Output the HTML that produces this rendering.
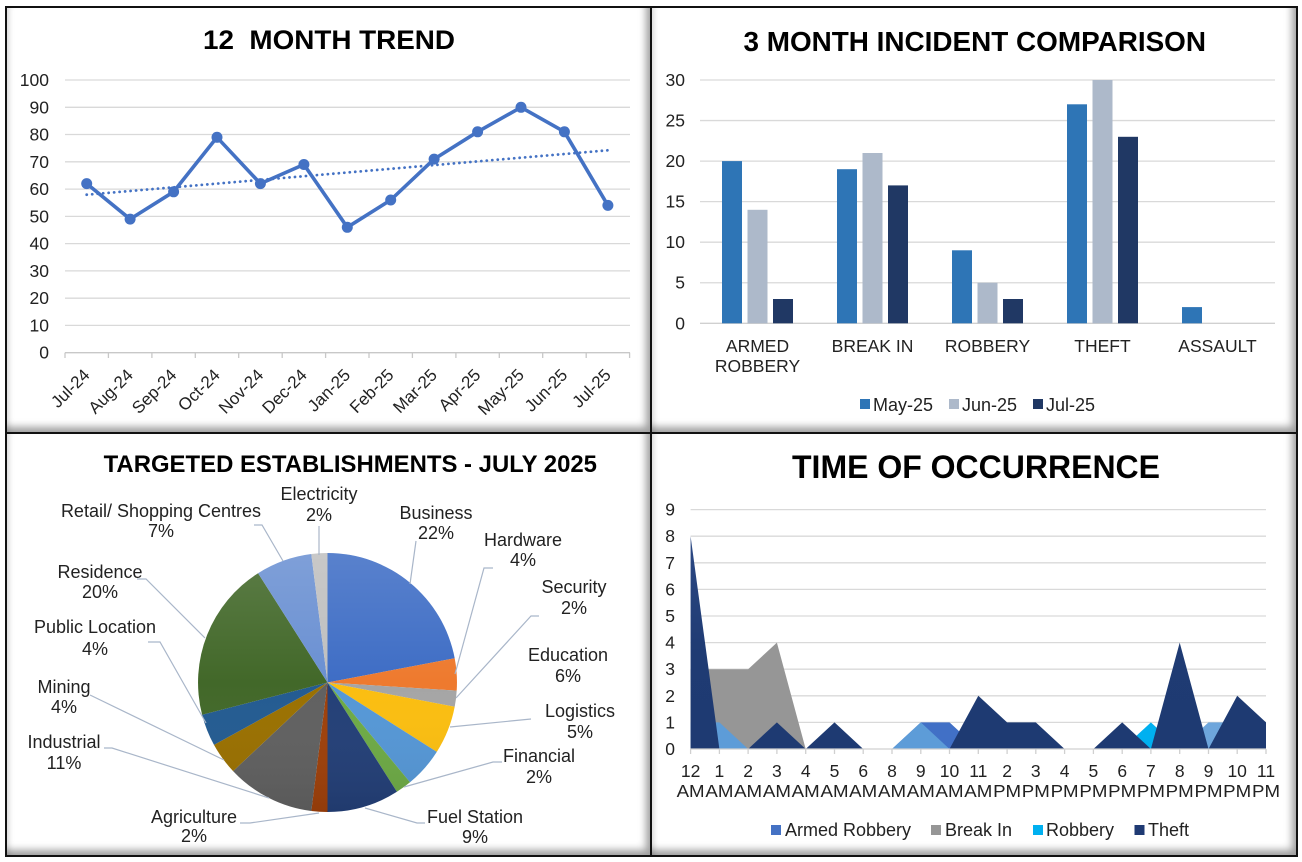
<!DOCTYPE html>
<html><head><meta charset="utf-8"><style>
html,body{margin:0;padding:0;background:#fff;}
body{width:1302px;height:862px;position:relative;overflow:hidden;}
.ln{position:absolute;background:#111;}
.pn{position:absolute;background:#fff;box-shadow:inset -7px -8px 8px -3px rgba(0,0,0,0.38), inset 6px 0 6px -4px rgba(0,0,0,0.16);}
svg{position:absolute;left:0;top:0;}
text{font-family:"Liberation Sans",Arial,sans-serif;fill:#222;}
.t{font-weight:bold;fill:#000;}
.tk{font-size:17.5px;}
.pl{font-size:18px;}
</style></head><body>
<div class="pn" style="left:7px;top:8px;width:643px;height:424px"></div>
<div class="pn" style="left:652px;top:8px;width:644px;height:424px"></div>
<div class="pn" style="left:7px;top:434px;width:643px;height:421px"></div>
<div class="pn" style="left:652px;top:434px;width:644px;height:421px"></div>
<div class="ln" style="left:5px;top:6px;width:1293px;height:2px"></div>
<div class="ln" style="left:5px;top:855px;width:1293px;height:2px"></div>
<div class="ln" style="left:5px;top:6px;width:2px;height:851px"></div>
<div class="ln" style="left:1296px;top:6px;width:2px;height:851px"></div>
<div class="ln" style="left:650px;top:6px;width:2px;height:851px"></div>
<div class="ln" style="left:5px;top:432px;width:1293px;height:2px"></div>

<svg width="1302" height="862" viewBox="0 0 1302 862">
<defs>
<linearGradient id="pieg" x1="0" y1="0" x2="0" y2="1">
<stop offset="0" stop-color="#fff" stop-opacity="0.14"/>
<stop offset="0.5" stop-color="#fff" stop-opacity="0"/>
<stop offset="1" stop-color="#000" stop-opacity="0.08"/>
</linearGradient>
<linearGradient id="theftg" x1="0" y1="510" x2="0" y2="749" gradientUnits="userSpaceOnUse">
<stop offset="0" stop-color="#2F4C88"/>
<stop offset="0.6" stop-color="#1F3B73"/>
<stop offset="1" stop-color="#1E3A72"/>
</linearGradient>
</defs>

<!-- ============ TOP LEFT: 12 MONTH TREND ============ -->
<text class="t" x="203" y="49" font-size="27" textLength="252" lengthAdjust="spacingAndGlyphs">12&#160; MONTH TREND</text>
<g stroke="#D9D9D9" stroke-width="1.3">
<line x1="65" y1="80" x2="630" y2="80"/>
<line x1="65" y1="107.3" x2="630" y2="107.3"/>
<line x1="65" y1="134.5" x2="630" y2="134.5"/>
<line x1="65" y1="161.8" x2="630" y2="161.8"/>
<line x1="65" y1="189.1" x2="630" y2="189.1"/>
<line x1="65" y1="216.4" x2="630" y2="216.4"/>
<line x1="65" y1="243.6" x2="630" y2="243.6"/>
<line x1="65" y1="270.9" x2="630" y2="270.9"/>
<line x1="65" y1="298.2" x2="630" y2="298.2"/>
<line x1="65" y1="325.4" x2="630" y2="325.4"/>
</g>
<g stroke="#C8C8C8" stroke-width="1.3">
<line x1="65" y1="352.7" x2="630" y2="352.7"/>
<line x1="65" y1="352.7" x2="65" y2="358"/>
<line x1="108.4" y1="352.7" x2="108.4" y2="358"/>
<line x1="151.9" y1="352.7" x2="151.9" y2="358"/>
<line x1="195.3" y1="352.7" x2="195.3" y2="358"/>
<line x1="238.7" y1="352.7" x2="238.7" y2="358"/>
<line x1="282.2" y1="352.7" x2="282.2" y2="358"/>
<line x1="325.6" y1="352.7" x2="325.6" y2="358"/>
<line x1="369" y1="352.7" x2="369" y2="358"/>
<line x1="412.4" y1="352.7" x2="412.4" y2="358"/>
<line x1="455.9" y1="352.7" x2="455.9" y2="358"/>
<line x1="499.3" y1="352.7" x2="499.3" y2="358"/>
<line x1="542.7" y1="352.7" x2="542.7" y2="358"/>
<line x1="586.2" y1="352.7" x2="586.2" y2="358"/>
<line x1="629.6" y1="352.7" x2="629.6" y2="358"/>
</g>
<g class="tk" text-anchor="end">
<text x="49" y="86">100</text>
<text x="49" y="113.3">90</text>
<text x="49" y="140.5">80</text>
<text x="49" y="167.8">70</text>
<text x="49" y="195.1">60</text>
<text x="49" y="222.4">50</text>
<text x="49" y="249.6">40</text>
<text x="49" y="276.9">30</text>
<text x="49" y="304.2">20</text>
<text x="49" y="331.4">10</text>
<text x="49" y="358.7">0</text>
</g>
<g font-size="17" text-anchor="end">
<text transform="translate(90.7,376) rotate(-45)">Jul-24</text>
<text transform="translate(134.1,376) rotate(-45)">Aug-24</text>
<text transform="translate(177.6,376) rotate(-45)">Sep-24</text>
<text transform="translate(221,376) rotate(-45)">Oct-24</text>
<text transform="translate(264.4,376) rotate(-45)">Nov-24</text>
<text transform="translate(307.9,376) rotate(-45)">Dec-24</text>
<text transform="translate(351.3,376) rotate(-45)">Jan-25</text>
<text transform="translate(394.7,376) rotate(-45)">Feb-25</text>
<text transform="translate(438.1,376) rotate(-45)">Mar-25</text>
<text transform="translate(481.6,376) rotate(-45)">Apr-25</text>
<text transform="translate(525,376) rotate(-45)">May-25</text>
<text transform="translate(568.4,376) rotate(-45)">Jun-25</text>
<text transform="translate(611.9,376) rotate(-45)">Jul-25</text>
</g>
<line x1="86.7" y1="194.7" x2="607.9" y2="150.3" stroke="#4472C4" stroke-width="2.8" stroke-linecap="round" stroke-dasharray="0.1 5.4"/>
<polyline fill="none" stroke="#4472C4" stroke-width="3.6" stroke-linejoin="round" points="86.7,183.6 130.1,219.1 173.6,191.8 217,137.3 260.4,183.6 303.9,164.5 347.3,227.3 390.7,200 434.1,159.1 477.6,131.8 521,107.3 564.4,131.8 607.9,205.4"/>
<g fill="#4472C4">
<circle cx="86.7" cy="183.6" r="5.5"/><circle cx="130.1" cy="219.1" r="5.5"/><circle cx="173.6" cy="191.8" r="5.5"/>
<circle cx="217" cy="137.3" r="5.5"/><circle cx="260.4" cy="183.6" r="5.5"/><circle cx="303.9" cy="164.5" r="5.5"/>
<circle cx="347.3" cy="227.3" r="5.5"/><circle cx="390.7" cy="200" r="5.5"/><circle cx="434.1" cy="159.1" r="5.5"/>
<circle cx="477.6" cy="131.8" r="5.5"/><circle cx="521" cy="107.3" r="5.5"/><circle cx="564.4" cy="131.8" r="5.5"/>
<circle cx="607.9" cy="205.4" r="5.5"/>
</g>

<!-- ============ TOP RIGHT: 3 MONTH INCIDENT COMPARISON ============ -->
<text class="t" x="743.5" y="51" font-size="27.5" textLength="462.5" lengthAdjust="spacingAndGlyphs">3 MONTH INCIDENT COMPARISON</text>
<g stroke="#D9D9D9" stroke-width="1.3">
<line x1="700" y1="80" x2="1275" y2="80"/>
<line x1="700" y1="120.55" x2="1275" y2="120.55"/>
<line x1="700" y1="161.1" x2="1275" y2="161.1"/>
<line x1="700" y1="201.65" x2="1275" y2="201.65"/>
<line x1="700" y1="242.2" x2="1275" y2="242.2"/>
<line x1="700" y1="282.75" x2="1275" y2="282.75"/>
<line x1="700" y1="323.3" x2="1275" y2="323.3" stroke="#D0D0D0"/>
</g>
<g class="tk" text-anchor="end">
<text x="685" y="86">30</text>
<text x="685" y="126.5">25</text>
<text x="685" y="167.1">20</text>
<text x="685" y="207.6">15</text>
<text x="685" y="248.2">10</text>
<text x="685" y="288.7">5</text>
<text x="685" y="329.3">0</text>
</g>
<g fill="#2E75B6">
<rect x="722" y="161.1" width="20" height="162.2"/>
<rect x="837" y="169.2" width="20" height="154.1"/>
<rect x="952" y="250.3" width="20" height="73"/>
<rect x="1067" y="104.3" width="20" height="219"/>
<rect x="1182" y="307.1" width="20" height="16.2"/>
</g>
<g fill="#ADB9CA">
<rect x="747.5" y="209.8" width="20" height="113.5"/>
<rect x="862.5" y="153" width="20" height="170.3"/>
<rect x="977.5" y="282.75" width="20" height="40.55"/>
<rect x="1092.5" y="80" width="20" height="243.3"/>
</g>
<g fill="#203864">
<rect x="773" y="299" width="20" height="24.3"/>
<rect x="888" y="185.4" width="20" height="137.9"/>
<rect x="1003" y="299" width="20" height="24.3"/>
<rect x="1118" y="136.8" width="20" height="186.5"/>
</g>
<g class="tk" text-anchor="middle">
<text x="757.5" y="352">ARMED</text>
<text x="757.5" y="372">ROBBERY</text>
<text x="872.5" y="352">BREAK IN</text>
<text x="987.5" y="352">ROBBERY</text>
<text x="1102.5" y="352">THEFT</text>
<text x="1217.5" y="352">ASSAULT</text>
</g>
<rect x="860" y="399" width="10" height="10" fill="#2E75B6"/>
<text class="pl" x="873" y="411">May-25</text>
<rect x="949" y="399" width="10" height="10" fill="#ADB9CA"/>
<text class="pl" x="962" y="411">Jun-25</text>
<rect x="1033" y="399" width="10" height="10" fill="#203864"/>
<text class="pl" x="1046" y="411">Jul-25</text>

<!-- ============ BOTTOM LEFT: PIE ============ -->
<text class="t" x="103.6" y="472" font-size="24" textLength="493.4" lengthAdjust="spacingAndGlyphs">TARGETED ESTABLISHMENTS - JULY 2025</text>
<g>
<path d="M327.5,682.5 L327.5,553 A129.5,129.5 0 0 1 454.7,658.2 Z" fill="#3E6DC5"/>
<path d="M327.5,682.5 L454.7,658.2 A129.5,129.5 0 0 1 456.7,690.6 Z" fill="#EE7A2E"/>
<path d="M327.5,682.5 L456.7,690.6 A129.5,129.5 0 0 1 454.7,706.8 Z" fill="#A5A5A5"/>
<path d="M327.5,682.5 L454.7,706.8 A129.5,129.5 0 0 1 436.8,751.9 Z" fill="#FBBE10"/>
<path d="M327.5,682.5 L436.8,751.9 A129.5,129.5 0 0 1 410,782.3 Z" fill="#5597D6"/>
<path d="M327.5,682.5 L410,782.3 A129.5,129.5 0 0 1 396.9,791.8 Z" fill="#6DAA45"/>
<path d="M327.5,682.5 L396.9,791.8 A129.5,129.5 0 0 1 327.5,812 Z" fill="#233F77"/>
<path d="M327.5,682.5 L327.5,812 A129.5,129.5 0 0 1 311.3,811 Z" fill="#9E400A"/>
<path d="M327.5,682.5 L311.3,811 A129.5,129.5 0 0 1 233.1,771.1 Z" fill="#606060"/>
<path d="M327.5,682.5 L233.1,771.1 A129.5,129.5 0 0 1 214,744.9 Z" fill="#9A7000"/>
<path d="M327.5,682.5 L214,744.9 A129.5,129.5 0 0 1 202.1,714.7 Z" fill="#235B91"/>
<path d="M327.5,682.5 L202.1,714.7 A129.5,129.5 0 0 1 258.1,573.2 Z" fill="#426829"/>
<path d="M327.5,682.5 L258.1,573.2 A129.5,129.5 0 0 1 311.3,554 Z" fill="#6A90D2"/>
<path d="M327.5,682.5 L311.3,554 A129.5,129.5 0 0 1 327.5,553 Z" fill="#BFBFBF"/>
<circle cx="327.5" cy="682.5" r="129.5" fill="url(#pieg)"/>
</g>
<g fill="none" stroke="#A9B6C9" stroke-width="1.2">
<polyline points="319,526 319,555"/>
<polyline points="254,525 262,525 283,561"/>
<polyline points="416,541 410,584"/>
<polyline points="493,568 484,568 455,674"/>
<polyline points="539,616 531,616 456,698"/>
<polyline points="531,719 450,727"/>
<polyline points="502,762 493,762 404,787"/>
<polyline points="425,823 417,823 365,808"/>
<polyline points="240,823 250,823 319,813"/>
<polyline points="104,748 112,748 269,798"/>
<polyline points="90,695 224,760"/>
<polyline points="148,642 160,642 206,723"/>
<polyline points="137,579 146,579 205,638"/>
</g>
<g class="pl" text-anchor="middle">
<text x="319" y="500">Electricity</text><text x="319" y="521">2%</text>
<text x="161" y="517">Retail/ Shopping Centres</text><text x="161" y="537">7%</text>
<text x="436" y="519">Business</text><text x="436" y="539">22%</text>
<text x="523" y="546">Hardware</text><text x="523" y="566">4%</text>
<text x="574" y="593">Security</text><text x="574" y="614">2%</text>
<text x="568" y="661">Education</text><text x="568" y="682">6%</text>
<text x="580" y="717">Logistics</text><text x="580" y="738">5%</text>
<text x="539" y="762">Financial</text><text x="539" y="783">2%</text>
<text x="475" y="823">Fuel Station</text><text x="475" y="843">9%</text>
<text x="194" y="823">Agriculture</text><text x="194" y="842">2%</text>
<text x="64" y="748">Industrial</text><text x="64" y="769">11%</text>
<text x="64" y="693">Mining</text><text x="64" y="713">4%</text>
<text x="95" y="633">Public Location</text><text x="95" y="655">4%</text>
<text x="100" y="578">Residence</text><text x="100" y="598">20%</text>
</g>

<!-- ============ BOTTOM RIGHT: TIME OF OCCURRENCE ============ -->
<text class="t" x="792" y="478" font-size="32" textLength="368" lengthAdjust="spacingAndGlyphs">TIME OF OCCURRENCE</text>
<g stroke="#D9D9D9" stroke-width="1.3">
<line x1="690.6" y1="509.6" x2="1266" y2="509.6"/>
<line x1="690.6" y1="536.2" x2="1266" y2="536.2"/>
<line x1="690.6" y1="562.8" x2="1266" y2="562.8"/>
<line x1="690.6" y1="589.4" x2="1266" y2="589.4"/>
<line x1="690.6" y1="616" x2="1266" y2="616"/>
<line x1="690.6" y1="642.6" x2="1266" y2="642.6"/>
<line x1="690.6" y1="669.2" x2="1266" y2="669.2"/>
<line x1="690.6" y1="695.8" x2="1266" y2="695.8"/>
<line x1="690.6" y1="722.4" x2="1266" y2="722.4"/>
</g>
<g class="tk" text-anchor="end">
<text x="675" y="515.6">9</text>
<text x="675" y="542.2">8</text>
<text x="675" y="568.8">7</text>
<text x="675" y="595.4">6</text>
<text x="675" y="622">5</text>
<text x="675" y="648.6">4</text>
<text x="675" y="675.2">3</text>
<text x="675" y="701.8">2</text>
<text x="675" y="728.4">1</text>
<text x="675" y="755">0</text>
</g>
<!-- series -->
<polygon fill="#969696" points="690.6,749 690.6,669.2 719.4,669.2 748.1,669.2 776.9,642.6 805.7,749"/>
<polygon fill="#4170C6" points="892,749 920.8,722.4 949.5,722.4 978.3,749"/>
<polygon fill="#5D9CD8" points="690.6,749 690.6,722.4 719.4,722.4 748.1,749"/>
<polygon fill="#5D9CD8" points="892,749 920.8,722.4 949.5,749"/>
<polygon fill="#6EA6DC" points="1179.7,749 1208.5,722.4 1237.2,722.4 1266,722.4 1266,749"/>
<polygon fill="#00B0F0" points="1122.2,749 1150.9,722.4 1179.7,749"/>
<polygon fill="url(#theftg)" points="690.6,749 690.6,536.2 719.4,749 748.1,749 776.9,722.4 805.7,749 834.5,722.4 863.2,749 892,749 920.8,749 949.5,749 978.3,695.8 1007.1,722.4 1035.8,722.4 1064.6,749 1093.4,749 1122.2,722.4 1150.9,749 1179.7,642.6 1208.5,749 1237.2,695.8 1266,722.4 1266,749"/>
<g stroke="#D0D0D0" stroke-width="1.3">
<line x1="690.6" y1="749" x2="1266" y2="749"/>
<line x1="690.6" y1="749" x2="690.6" y2="754"/><line x1="719.4" y1="749" x2="719.4" y2="754"/>
<line x1="748.1" y1="749" x2="748.1" y2="754"/><line x1="776.9" y1="749" x2="776.9" y2="754"/>
<line x1="805.7" y1="749" x2="805.7" y2="754"/><line x1="834.5" y1="749" x2="834.5" y2="754"/>
<line x1="863.2" y1="749" x2="863.2" y2="754"/><line x1="892" y1="749" x2="892" y2="754"/>
<line x1="920.8" y1="749" x2="920.8" y2="754"/><line x1="949.5" y1="749" x2="949.5" y2="754"/>
<line x1="978.3" y1="749" x2="978.3" y2="754"/><line x1="1007.1" y1="749" x2="1007.1" y2="754"/>
<line x1="1035.8" y1="749" x2="1035.8" y2="754"/><line x1="1064.6" y1="749" x2="1064.6" y2="754"/>
<line x1="1093.4" y1="749" x2="1093.4" y2="754"/><line x1="1122.2" y1="749" x2="1122.2" y2="754"/>
<line x1="1150.9" y1="749" x2="1150.9" y2="754"/><line x1="1179.7" y1="749" x2="1179.7" y2="754"/>
<line x1="1208.5" y1="749" x2="1208.5" y2="754"/><line x1="1237.2" y1="749" x2="1237.2" y2="754"/>
<line x1="1266" y1="749" x2="1266" y2="754"/>
</g>
<g class="tk" text-anchor="middle">
<text x="690.6" y="777">12</text><text x="719.4" y="777">1</text><text x="748.1" y="777">2</text>
<text x="776.9" y="777">3</text><text x="805.7" y="777">4</text><text x="834.5" y="777">5</text>
<text x="863.2" y="777">6</text><text x="892" y="777">8</text><text x="920.8" y="777">9</text>
<text x="949.5" y="777">10</text><text x="978.3" y="777">11</text><text x="1007.1" y="777">2</text>
<text x="1035.8" y="777">3</text><text x="1064.6" y="777">4</text><text x="1093.4" y="777">5</text>
<text x="1122.2" y="777">6</text><text x="1150.9" y="777">7</text><text x="1179.7" y="777">8</text>
<text x="1208.5" y="777">9</text><text x="1237.2" y="777">10</text><text x="1266" y="777">11</text>
</g>
<g class="tk" text-anchor="middle">
<text x="690.6" y="797" textLength="28" lengthAdjust="spacingAndGlyphs">AM</text>
<text x="719.4" y="797" textLength="28" lengthAdjust="spacingAndGlyphs">AM</text>
<text x="748.1" y="797" textLength="28" lengthAdjust="spacingAndGlyphs">AM</text>
<text x="776.9" y="797" textLength="28" lengthAdjust="spacingAndGlyphs">AM</text>
<text x="805.7" y="797" textLength="28" lengthAdjust="spacingAndGlyphs">AM</text>
<text x="834.5" y="797" textLength="28" lengthAdjust="spacingAndGlyphs">AM</text>
<text x="863.2" y="797" textLength="28" lengthAdjust="spacingAndGlyphs">AM</text>
<text x="892" y="797" textLength="28" lengthAdjust="spacingAndGlyphs">AM</text>
<text x="920.8" y="797" textLength="28" lengthAdjust="spacingAndGlyphs">AM</text>
<text x="949.5" y="797" textLength="28" lengthAdjust="spacingAndGlyphs">AM</text>
<text x="978.3" y="797" textLength="28" lengthAdjust="spacingAndGlyphs">AM</text>
<text x="1007.1" y="797" textLength="28" lengthAdjust="spacingAndGlyphs">PM</text>
<text x="1035.8" y="797" textLength="28" lengthAdjust="spacingAndGlyphs">PM</text>
<text x="1064.6" y="797" textLength="28" lengthAdjust="spacingAndGlyphs">PM</text>
<text x="1093.4" y="797" textLength="28" lengthAdjust="spacingAndGlyphs">PM</text>
<text x="1122.2" y="797" textLength="28" lengthAdjust="spacingAndGlyphs">PM</text>
<text x="1150.9" y="797" textLength="28" lengthAdjust="spacingAndGlyphs">PM</text>
<text x="1179.7" y="797" textLength="28" lengthAdjust="spacingAndGlyphs">PM</text>
<text x="1208.5" y="797" textLength="28" lengthAdjust="spacingAndGlyphs">PM</text>
<text x="1237.2" y="797" textLength="28" lengthAdjust="spacingAndGlyphs">PM</text>
<text x="1266" y="797" textLength="28" lengthAdjust="spacingAndGlyphs">PM</text>
</g>
<rect x="771" y="825" width="10" height="10" fill="#4472C4"/>
<text class="pl" x="785" y="836">Armed Robbery</text>
<rect x="931" y="825" width="10" height="10" fill="#969696"/>
<text class="pl" x="945" y="836">Break In</text>
<rect x="1033" y="825" width="10" height="10" fill="#00B0F0"/>
<text class="pl" x="1046" y="836">Robbery</text>
<rect x="1134.5" y="825" width="10" height="10" fill="#1F3A73"/>
<text class="pl" x="1148" y="836">Theft</text>
</svg>
</body></html>
